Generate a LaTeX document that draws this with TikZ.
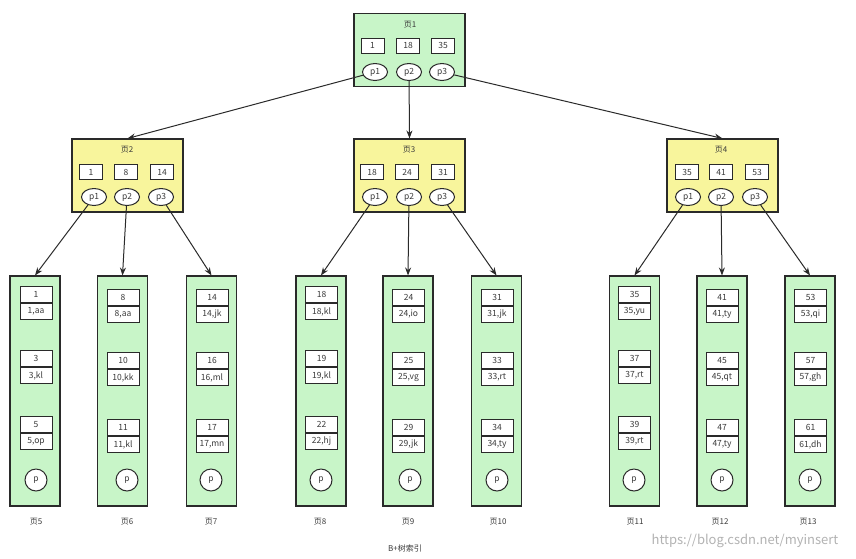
\documentclass[tikz,border=0pt]{standalone}
\usepackage{fontspec}
\setmainfont{Noto Sans CJK SC}
\usetikzlibrary{shapes.geometric,arrows.meta}
\definecolor{leafGreen}{HTML}{C8F5C8}
\definecolor{innerYellow}{HTML}{F8F59C}
\definecolor{lineGray}{HTML}{2A2A2A}
\definecolor{textGray}{HTML}{3A3A3A}

\begin{document}
\begin{tikzpicture}[x=1pt, y=-1pt,
    innerPage/.style={rectangle, draw=lineGray, line width=1.1pt, fill=innerYellow, minimum width=111pt, minimum height=73pt},
    rootPage/.style={innerPage, fill=leafGreen},
    leafPage/.style={rectangle, draw=lineGray, line width=1.1pt, fill=leafGreen, minimum width=50pt, minimum height=230pt},
    keyBox/.style={rectangle, draw=lineGray, line width=1pt, fill=white, minimum width=23pt, minimum height=15pt, inner sep=1pt, font=\fontsize{8.5}{9}\selectfont, text=textGray},
    keyPart/.style={rectangle, draw=lineGray, line width=1pt, fill=white, minimum width=32pt, minimum height=16pt, inner sep=1pt, anchor=north, font=\fontsize{8.5}{9}\selectfont, text=textGray},
    ptrOval/.style={ellipse, draw=lineGray, line width=1pt, fill=white, minimum width=25pt, minimum height=17pt, inner sep=0pt, font=\fontsize{8.5}{9}\selectfont, text=textGray},
    ptrCircle/.style={circle, draw=lineGray, line width=1pt, fill=white, minimum size=22pt, inner sep=0pt, font=\fontsize{8.5}{9}\selectfont, text=textGray},
    pageLabel/.style={font=\fontsize{8}{9}\selectfont, text=textGray},
    link/.style={draw=lineGray, line width=1pt, -{Stealth[length=8pt,width=6pt]}}]
    \useasboundingbox (0,0) rectangle (856,558);

    % root page
    \node[rootPage] (page1) at (409.5,50) {};
    \node[pageLabel] (title1) at (410,25) {页1};
    \node[keyBox] (r1) at (372.5,45.5) {1};
    \node[keyBox] (r18) at (408,45.5) {18};
    \node[keyBox] (r35) at (443,45.5) {35};
    \node[ptrOval] (rp1) at (375,72) {p1};
    \node[ptrOval] (rp2) at (409,72) {p2};
    \node[ptrOval] (rp3) at (442,72) {p3};

    % second level
    \node[innerPage] (page2) at (127.5,175.5) {};
    \node[pageLabel] (title2) at (127,150) {页2};
    \node[keyBox] (a1) at (91,172) {1};
    \node[keyBox] (a8) at (126,172) {8};
    \node[keyBox] (a14) at (162,172) {14};
    \node[ptrOval] (ap1) at (94,197) {p1};
    \node[ptrOval] (ap2) at (127,197) {p2};
    \node[ptrOval] (ap3) at (161,197) {p3};

    \node[innerPage] (page3) at (409.5,175.5) {};
    \node[pageLabel] (title3) at (409,150) {页3};
    \node[keyBox] (b18) at (372,172) {18};
    \node[keyBox] (b24) at (407,172) {24};
    \node[keyBox] (b31) at (443,172) {31};
    \node[ptrOval] (bp1) at (375,197) {p1};
    \node[ptrOval] (bp2) at (409,197) {p2};
    \node[ptrOval] (bp3) at (442,197) {p3};

    \node[innerPage] (page4) at (722.5,175.5) {};
    \node[pageLabel] (title4) at (721,150) {页4};
    \node[keyBox] (c35) at (687,172) {35};
    \node[keyBox] (c41) at (721,172) {41};
    \node[keyBox] (c53) at (757,172) {53};
    \node[ptrOval] (cp1) at (688,197) {p1};
    \node[ptrOval] (cp2) at (721,197) {p2};
    \node[ptrOval] (cp3) at (755,197) {p3};

    % leaf pages
    \node[leafPage] (page5) at (35,391) {};
    \node[keyPart] (k1) at (36,286) {1};
    \node[keyPart] (v1) at (k1.south) {1,aa};
    \node[keyPart] (k3) at (36,350) {3};
    \node[keyPart] (v3) at (k3.south) {3,kl};
    \node[keyPart] (k5) at (36,416) {5};
    \node[keyPart] (v5) at (k5.south) {5,op};
    \node[ptrCircle] (q5) at (36,480) {p};
    \node[pageLabel] (name5) at (36,522) {页5};

    \node[leafPage] (page6) at (122.5,391) {};
    \node[keyPart] (k8) at (123,289) {8};
    \node[keyPart] (v8) at (k8.south) {8,aa};
    \node[keyPart] (k10) at (123,352) {10};
    \node[keyPart] (v10) at (k10.south) {10,kk};
    \node[keyPart] (k11) at (123,419) {11};
    \node[keyPart] (v11) at (k11.south) {11,kl};
    \node[ptrCircle] (q6) at (127,480) {p};
    \node[pageLabel] (name6) at (127,522) {页6};

    \node[leafPage] (page7) at (211.5,391) {};
    \node[keyPart] (k14) at (212,289) {14};
    \node[keyPart] (v14) at (k14.south) {14,jk};
    \node[keyPart] (k16) at (212,352) {16};
    \node[keyPart] (v16) at (k16.south) {16,ml};
    \node[keyPart] (k17) at (212,419) {17};
    \node[keyPart] (v17) at (k17.south) {17,mn};
    \node[ptrCircle] (q7) at (211,480) {p};
    \node[pageLabel] (name7) at (211,522) {页7};

    \node[leafPage] (page8) at (321,391) {};
    \node[keyPart] (k18) at (321.5,286) {18};
    \node[keyPart] (v18) at (k18.south) {18,kl};
    \node[keyPart] (k19) at (321.5,350) {19};
    \node[keyPart] (v19) at (k19.south) {19,kl};
    \node[keyPart] (k22) at (321.5,416) {22};
    \node[keyPart] (v22) at (k22.south) {22,hj};
    \node[ptrCircle] (q8) at (321,480) {p};
    \node[pageLabel] (name8) at (320,522) {页8};

    \node[leafPage] (page9) at (408,391) {};
    \node[keyPart] (k24) at (408.5,289) {24};
    \node[keyPart] (v24) at (k24.south) {24,io};
    \node[keyPart] (k25) at (408.5,352) {25};
    \node[keyPart] (v25) at (k25.south) {25,vg};
    \node[keyPart] (k29) at (408.5,419) {29};
    \node[keyPart] (v29) at (k29.south) {29,jk};
    \node[ptrCircle] (q9) at (410,480) {p};
    \node[pageLabel] (name9) at (408,522) {页9};

    \node[leafPage] (page10) at (496.5,391) {};
    \node[keyPart] (k31) at (497,289) {31};
    \node[keyPart] (v31) at (k31.south) {31,jk};
    \node[keyPart] (k33) at (497,352) {33};
    \node[keyPart] (v33) at (k33.south) {33,rt};
    \node[keyPart] (k34) at (497,419) {34};
    \node[keyPart] (v34) at (k34.south) {34,ty};
    \node[ptrCircle] (q10) at (497,480) {p};
    \node[pageLabel] (name10) at (498,522) {页10};

    \node[leafPage] (page11) at (634.5,391) {};
    \node[keyPart] (k35) at (634.5,286) {35};
    \node[keyPart] (v35) at (k35.south) {35,yu};
    \node[keyPart] (k37) at (634.5,350) {37};
    \node[keyPart] (v37) at (k37.south) {37,rt};
    \node[keyPart] (k39) at (634.5,416) {39};
    \node[keyPart] (v39) at (k39.south) {39,rt};
    \node[ptrCircle] (q11) at (634,480) {p};
    \node[pageLabel] (name11) at (635,522) {页11};

    \node[leafPage] (page12) at (722,391) {};
    \node[keyPart] (k41) at (722,289) {41};
    \node[keyPart] (v41) at (k41.south) {41,ty};
    \node[keyPart] (k45) at (722,352) {45};
    \node[keyPart] (v45) at (k45.south) {45,qt};
    \node[keyPart] (k47) at (722,419) {47};
    \node[keyPart] (v47) at (k47.south) {47,ty};
    \node[ptrCircle] (q12) at (722,480) {p};
    \node[pageLabel] (name12) at (720,522) {页12};

    \node[leafPage] (page13) at (810,391) {};
    \node[keyPart] (k53) at (810.5,289) {53};
    \node[keyPart] (v53) at (k53.south) {53,qi};
    \node[keyPart] (k57) at (810.5,352) {57};
    \node[keyPart] (v57) at (k57.south) {57,gh};
    \node[keyPart] (k61) at (810.5,419) {61};
    \node[keyPart] (v61) at (k61.south) {61,dh};
    \node[ptrCircle] (q13) at (810,480) {p};
    \node[pageLabel] (name13) at (808,522) {页13};

    % caption and watermark
    \node[pageLabel] (caption) at (405,548) {B+树索引};
    \node[font=\fontsize{13}{14}\selectfont, text=black!30] (mark) at (745,541) {https://blog.csdn.net/myinsert};

    % pointers
    \draw[link] (rp1) -- (page2.north);
    \draw[link] (rp2) -- (page3.north);
    \draw[link] (rp3) -- (page4.north);

    \draw[link] (ap1) -- (page5.north);
    \draw[link] (ap2) -- (page6.north);
    \draw[link] (ap3) -- (page7.north);
    \draw[link] (bp1) -- (page8.north);
    \draw[link] (bp2) -- (page9.north);
    \draw[link] (bp3) -- (page10.north);
    \draw[link] (cp1) -- (page11.north);
    \draw[link] (cp2) -- (page12.north);
    \draw[link] (cp3) -- (page13.north);
\end{tikzpicture}
\end{document}
